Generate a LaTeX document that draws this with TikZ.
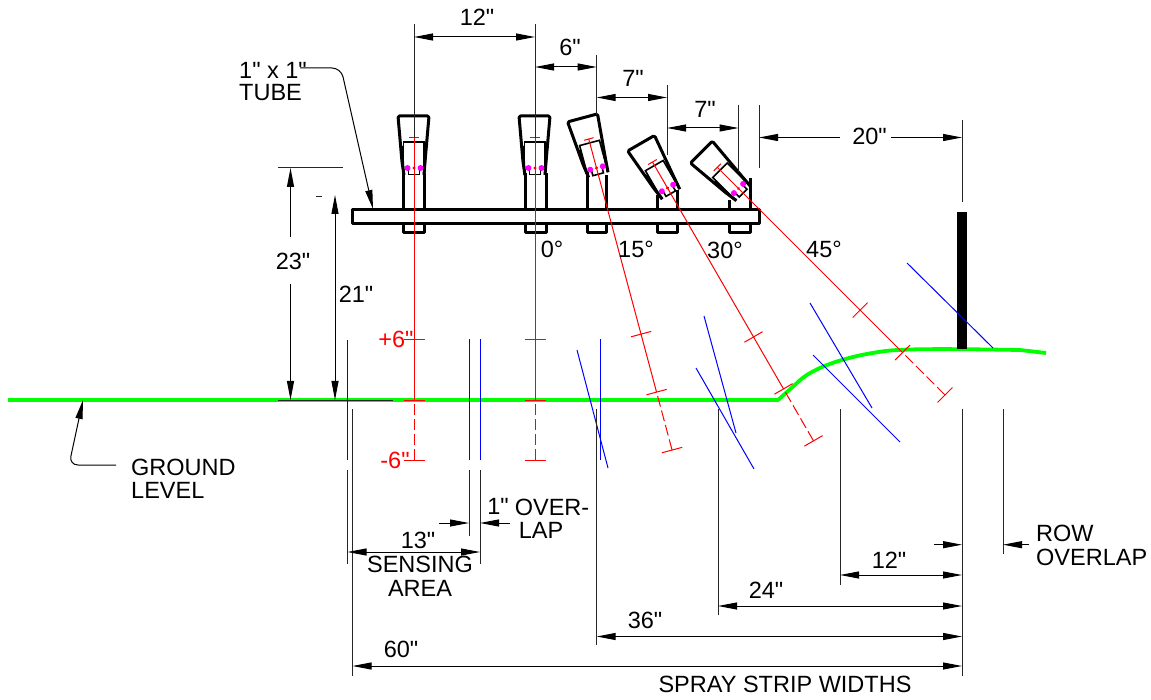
\documentclass[tikz,border=0pt]{standalone}
\usepackage{fontspec}
\newfontfamily\dimfont{Liberation Sans}
\usetikzlibrary{arrows.meta}
\definecolor{dotpink}{RGB}{255,0,255}
\definecolor{groundgreen}{RGB}{0,255,0}
\definecolor{beamblue}{RGB}{0,0,255}
\definecolor{axisline}{RGB}{255,0,0}

\begin{document}
\begin{tikzpicture}
    [
        x=1pt,y=-1pt,
        dimtext/.style={inner sep=0pt, font=\dimfont\fontsize{23.5}{25}\selectfont},
        dimred/.style={dimtext, text=axisline},
        ext/.style={line width=1pt, black!85},
        dimline/.style={line width=1pt, {Triangle[length=19pt,width=7pt]}-{Triangle[length=19pt,width=7pt]}},
        dimtip/.style={line width=1pt, -{Triangle[length=19pt,width=7pt]}},
        leader/.style={line width=1pt, rounded corners=9pt, -{Triangle[length=19pt,width=7pt]}},
        beam/.style={line width=1pt, beamblue},
        axisred/.style={line width=1pt, axisline},
        strong/.style={line width=3pt, line join=round},
    ]
    \useasboundingbox (0,0) rectangle (1151,700);

    % ground
    \draw [line width=3.8pt, groundgreen, line join=round]
        (8,400) -- (778,400) -- (797,383)
        .. controls (812,367) and (850,355) .. (890,350.5)
        .. controls (915,348.5) and (960,349) .. (1020,350) -- (1046,353);
    \fill (957.3,212) rectangle (966.7,349);

    % sensing beams
    \foreach \bx/\by/\cx/\cy in {
        347.5/340/347.5/460, 469/339/469/460, 480/339/480/460, 600.5/339/600.5/460,
        577/350/608/468, 704/316/736/433, 696/368/754/469,
        810/303/872/408, 813/355/900/442, 907/263/993/348}
        \draw [beam] (\bx,\by) -- (\cx,\cy);

    % bar and stands
    \draw [strong] (352,210) rectangle (759,223.5);
    \foreach \xl/\xr/\yl/\yr in {
        403/424/173/173, 525.5/546/173/173, 587/606/172/175,
        657/677/195/190, 729/750/200/178}
    {
        \draw [strong] (\xl,\yl) -- (\xl,210) (\xr,\yr) -- (\xr,210);
        \draw [strong] (\xl,223.5) |- (\xr,233) -- (\xr,223.5);
    }

    % sensors
    \foreach \sx/\sy/\sa in {414/168/0, 535/168/0, 596.5/168/15, 667.5/188/30, 738.5/188.5/45}
    {
        \begin{scope}[shift={(\sx,\sy)}, rotate=\sa]
            \draw [strong, rounded corners=1.5pt] (-10,7) -- (-12,-6) -- (-16,-52) -- (15,-52) -- (11,-6) -- (10,7);
            \draw [line width=2.4pt] (-10.5,7) -- (-12,-22) (10,7) -- (12,-22);
            \draw [line width=1.6pt] (-10.5,5) -- (-10.5,-26) -- (10,-26) -- (10,5);
            \draw [line width=1.6pt] (-5.5,0) -- (-5.5,6.5) -- (5.5,6.5) -- (5.5,0);
            \fill [dotpink] (-6.5,0) circle (3) (6.5,0) circle (3);
            \fill [axisline] (0,0) circle (1.7);
            \draw [axisred] (0,-30) -- (0,232);
            \draw [axisred, dash pattern=on 11pt off 4pt] (0,236) -- (0,292);
            \draw [axisred] (-5,-30) -- (5,-30);
            \foreach \ty in {172,232,292}
                \draw [axisred] (-10.5,\ty) -- (10.5,\ty);
        \end{scope}
    }

    % witness points
    \foreach \cname/\cx/\cy in {
        a1/414/24, a2/414/138, b1/535/24, b2/535/138, c1/596.7/55, c2/596.7/115,
        d1/667/85, d2/667/155, e1/738.5/105, e2/738.5/172, f1/759/105, f2/759/168,
        g1/962/120, g2/962/202, h1/278/168, h2/343/168, i1/278/400, i2/393/400,
        j1/352.5/409, j2/352.5/676, k1/347.5/470, k2/347.5/564, l1/469/470, l2/469/536,
        m1/480/470, m2/480/564, n1/596.7/409, n2/596.7/645, o1/718/409, o2/718/615,
        p1/840/409, p2/840/585, q1/962/409, q2/962/676, r1/1003/409, r2/1003/554,
        s1/316/197, s2/322/197}
        \coordinate (\cname) at (\cx,\cy);

    \path
    (a1) edge [ext] (a2)
    (b1) edge [ext] (b2)
    (c1) edge [ext] (c2)
    (d1) edge [ext] (d2)
    (e1) edge [ext] (e2)
    (f1) edge [ext] (f2)
    (g1) edge [ext] (g2)
    (h1) edge [ext] (h2)
    (i1) edge [ext] (i2)
    (j1) edge [ext] (j2)
    (k1) edge [ext] (k2)
    (l1) edge [ext] (l2)
    (m1) edge [ext] (m2)
    (n1) edge [ext] (n2)
    (o1) edge [ext] (o2)
    (p1) edge [ext] (p2)
    (q1) edge [ext] (q2)
    (r1) edge [ext] (r2)
    (s1) edge [ext] (s2);

    % dimensions
    \foreach \cname/\cx/\cy in {
        w1/414/37, w2/535/37, w3/535/67, w4/596.7/67, w5/596.7/97.5, w6/667/97.5,
        w7/667/128, w8/738.5/128, w9/759/137.5, w10/840/137.5, w11/891/137.5, w12/962/137.5,
        w13/290.5/168, w14/290.5/237, w15/290.5/284, w16/290.5/400, w17/335/195, w18/335/400,
        w19/347.5/552, w20/480/552, w21/439/523, w22/469/523, w23/510/523, w24/480/523,
        w25/934/544.7, w26/962/544.7, w27/1029/544.7, w28/1003/544.7,
        w29/840/575, w30/962/575, w31/718/606, w32/962/606, w33/596.7/636.5, w34/962/636.5,
        w35/352.5/666, w36/962/666}
        \coordinate (\cname) at (\cx,\cy);

    \path
    (w1)  edge [dimline] (w2)
    (w3)  edge [dimline] (w4)
    (w5)  edge [dimline] (w6)
    (w7)  edge [dimline] (w8)
    (w10) edge [dimtip] (w9)
    (w11) edge [dimtip] (w12)
    (w14) edge [dimtip] (w13)
    (w15) edge [dimtip] (w16)
    (w17) edge [dimline] (w18)
    (w19) edge [dimline] (w20)
    (w21) edge [dimtip] (w22)
    (w23) edge [dimtip] (w24)
    (w25) edge [dimtip] (w26)
    (w27) edge [dimtip] (w28)
    (w29) edge [dimline] (w30)
    (w31) edge [dimline] (w32)
    (w33) edge [dimline] (w34)
    (w35) edge [dimline] (w36);

    % labels
    \node (top12)   at (477,17)    [dimtext] {12"};
    \node (top6)    at (570,47)    [dimtext] {6"};
    \node (top7a)   at (633,78)    [dimtext] {7"};
    \node (top7b)   at (705,109)   [dimtext] {7"};
    \node (top20)   at (869.5,136) [dimtext] {20"};
    \node (side23)  at (293,261)   [dimtext] {23"};
    \node (side21)  at (356,294)   [dimtext] {21"};
    \node (deg0)    at (552,249)   [dimtext] {0°};
    \node (deg15)   at (636,249)   [dimtext] {15°};
    \node (deg30)   at (725,250)   [dimtext] {30°};
    \node (deg45)   at (824,249)   [dimtext] {45°};
    \node (plus6)   at (396,339)   [dimred] {+6"};
    \node (minus6)  at (395,460)   [dimred] {-6"};
    \node (tube1)   at (239,70)    [dimtext, anchor=west] {1" x 1"};
    \node (tube2)   at (239,93)    [dimtext, anchor=west] {TUBE};
    \node (ground1) at (131,467)   [dimtext, anchor=west] {GROUND};
    \node (ground2) at (131,490)   [dimtext, anchor=west] {LEVEL};
    \node (dim13)   at (418,540)   [dimtext] {13"};
    \node (sense1)  at (420,564)   [dimtext] {SENSING};
    \node (sense2)  at (420,588)   [dimtext] {AREA};
    \node (dim1)    at (498,506)   [dimtext] {1"};
    \node (over1)   at (552,507)   [dimtext] {OVER-};
    \node (over2)   at (541,530)   [dimtext] {LAP};
    \node (row1)    at (1036,533)  [dimtext, anchor=west] {ROW};
    \node (row2)    at (1036,557)  [dimtext, anchor=west] {OVERLAP};
    \node (strip12) at (889,560)   [dimtext] {12"};
    \node (strip24) at (766,590)   [dimtext] {24"};
    \node (strip36) at (645,620)   [dimtext] {36"};
    \node (strip60) at (401,649)   [dimtext] {60"};
    \node (strips)  at (785,684)   [dimtext] {SPRAY STRIP WIDTHS};

    % leaders
    \coordinate (tubefrom) at (300,68);
    \coordinate (tubeknee) at (341,68);
    \coordinate (tubeend)  at (373,209);
    \coordinate (groundfrom) at (116,465);
    \coordinate (groundknee) at (69,465);
    \coordinate (groundend)  at (83,400);
    \draw [leader] (tubefrom) -- (tubeknee) -- (tubeend);
    \draw [leader] (groundfrom) -- (groundknee) -- (groundend);

\end{tikzpicture}
\end{document}
